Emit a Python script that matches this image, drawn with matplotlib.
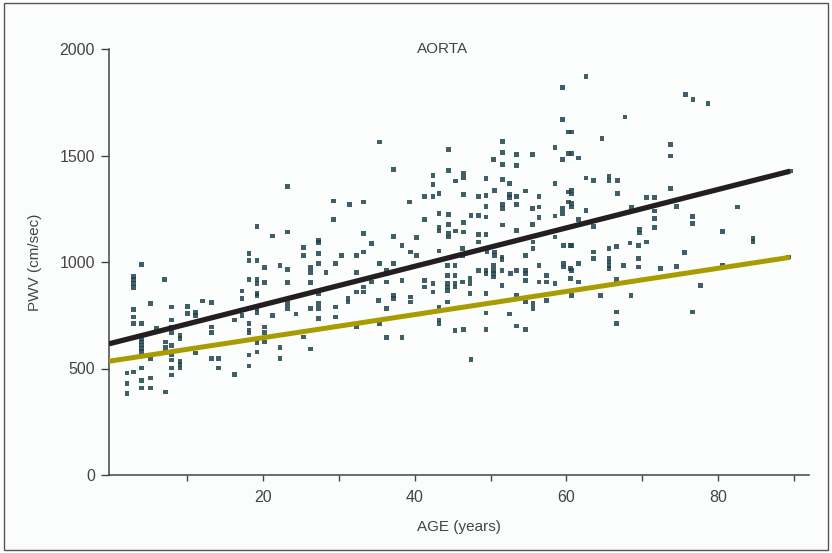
import matplotlib
matplotlib.use("Agg")
import matplotlib.pyplot as plt
from matplotlib.patches import Rectangle
import numpy as np

plt.rcParams['font.family'] = ['Liberation Sans', 'DejaVu Sans']

# Individual measurements: age (years) and aortic pulse wave velocity (cm/sec)
age = [
    3.9, 2.9, 2.9, 2.9, 2.9, 2.9, 2.9, 2.9, 3.9, 3.9, 3.9, 3.9, 3.9, 3.9,
    2.0, 2.0, 2.0, 2.9, 3.9, 3.9, 3.9, 5.1, 5.1, 5.1, 5.1, 5.9, 7.0,
    7.1, 7.1, 7.1, 7.1, 7.9, 7.9, 7.9, 7.9, 7.9, 7.9, 7.9, 7.9, 7.9,
    9.0, 9.0, 9.0, 9.0, 9.0, 10.0, 10.0, 11.1, 11.1, 11.1, 12.0,
    13.2, 13.2, 13.2, 13.2, 14.1, 14.1, 16.2, 16.2, 17.2, 17.2, 17.2,
    18.1, 18.1, 18.1, 18.1, 18.1, 18.1, 18.1, 18.1,
    19.2, 19.2, 19.2, 19.2, 19.2, 19.2, 19.2, 19.2, 19.2, 19.2,
    20.2, 20.2, 20.2, 20.2, 20.2, 21.2, 22.2, 22.2, 22.2,
    23.2, 23.2, 23.2, 23.2, 24.3, 25.3, 25.3, 25.3,
    26.2, 26.2, 26.2, 26.2, 26.2, 27.3, 27.3, 27.3, 27.3, 27.3, 27.3, 27.3,
    28.3, 29.5, 29.5, 29.5,
    23.2, 29.3, 29.3, 19.2, 23.2, 21.2, 27.3,
    59.5, 59.5, 60.3, 35.3, 44.4, 51.6, 51.6, 51.6, 51.6, 53.4, 53.4,
    50.4, 55.5, 58.5, 59.5, 60.3, 37.2, 44.4, 42.4, 42.4, 46.4, 46.4,
    45.4, 49.4, 52.5, 58.5, 54.6, 50.5, 31.4, 33.2, 39.3, 41.3, 42.4, 43.2,
    46.4, 48.4, 49.4, 52.5, 52.5, 53.4, 53.4, 56.4, 56.4, 60.3, 60.3,
    49.4, 51.6, 51.6, 55.5, 59.5, 59.5, 43.2, 44.4, 47.4, 48.4, 49.4,
    56.4, 58.5, 41.3, 51.6, 55.5, 44.4, 44.4, 44.4, 43.2, 43.2, 45.4,
    46.4, 46.4, 33.2, 37.2, 40.2, 48.4, 49.4, 53.4, 58.5,
    62.6, 75.7, 76.7, 78.7, 67.7, 60.7, 64.7, 73.7, 73.7, 60.7, 61.6,
    62.6, 63.6, 65.6, 65.6, 66.7, 66.7, 73.7, 60.7, 60.7, 60.7, 60.7,
    62.6, 61.6, 63.6, 70.6, 71.6, 68.6, 71.6, 71.6, 71.6, 74.5, 76.6, 76.6,
    82.6, 80.6, 84.6, 69.6, 69.6, 89.6,
    34.3, 30.3, 32.3, 33.2, 38.3, 39.4, 40.2, 43.2, 46.3, 46.3, 48.4, 49.5,
    50.5, 50.5, 51.5, 51.5, 54.6, 55.6, 55.6, 59.6, 60.5,
    35.3, 37.2, 32.3, 36.3, 36.3, 36.3, 34.3, 38.3, 41.3, 41.3, 42.4, 42.4,
    44.3, 44.3, 44.3, 44.3, 44.3, 45.3, 45.3, 45.3, 45.3, 46.3, 47.3, 47.3,
    47.3, 48.4, 49.4, 49.4, 50.4, 50.4, 50.4, 50.4, 51.5, 52.6, 51.5,
    53.4, 54.6, 54.6, 54.6, 56.4, 56.4, 57.4, 57.4, 58.5, 59.6, 59.6,
    60.5, 60.5, 31.2, 31.2, 32.3, 33.2, 33.2, 35.2, 36.3, 37.2, 37.2,
    39.4, 39.4, 43.2, 43.2, 43.2, 44.3, 49.4, 49.4, 52.5, 53.4, 53.4,
    54.6, 54.6, 55.6, 55.6, 57.4, 32.3, 35.3, 36.3, 38.3, 45.3, 46.4,
    49.4, 47.4,
    60.7, 63.6, 63.6, 65.6, 65.6, 65.6, 65.6, 65.6, 66.6, 68.4, 69.5, 70.6,
    69.5, 69.5, 67.5, 61.6, 60.7, 72.4, 74.5, 75.6, 80.6, 84.6, 61.6, 66.6,
    77.7, 60.7, 64.5, 68.5, 66.6, 66.6, 76.6, 89.3,
]
pwv = [
    989, 933, 919, 900, 881, 778, 741, 712, 712, 640, 625, 610, 595, 580,
    478, 431, 384, 483, 502, 445, 408, 806, 455, 408, 548, 689, 919,
    624, 600, 577, 389, 788, 727, 694, 670, 609, 563, 539, 502, 469,
    656, 642, 534, 520, 502, 792, 759, 764, 750, 572, 816,
    811, 694, 670, 548, 548, 502, 727, 473, 863, 830, 750,
    1041, 1008, 919, 712, 680, 666, 563, 511,
    1008, 919, 900, 853, 844, 783, 764, 633, 619, 577,
    975, 905, 694, 670, 624, 750, 984, 600, 548,
    966, 905, 806, 783, 755, 1069, 1031, 647,
    975, 952, 905, 783, 591, 1092, 1041, 994, 853, 806, 783, 736,
    952, 994, 788, 741,
    1355, 1286, 1200, 1167, 1141, 1122, 1102,
    1818, 1669, 1610, 1563, 1528, 1566, 1514, 1458, 1388, 1505, 1453,
    1481, 1505, 1538, 1481, 1509, 1433, 1430, 1406, 1364, 1417, 1398,
    1380, 1391, 1368, 1368, 1333, 1336, 1270, 1281, 1281, 1308, 1308, 1323,
    1317, 1308, 1313, 1317, 1302, 1308, 1270, 1308, 1258, 1328, 1281,
    1261, 1270, 1250, 1250, 1250, 1227, 1227, 1223, 1219, 1219, 1211,
    1208, 1216, 1200, 1174, 1177, 1177, 1133, 1117, 1161, 1145, 1145,
    1185, 1141, 1133, 1120, 1114, 1130, 1130, 1149, 1117,
    1871, 1786, 1763, 1745, 1680, 1610, 1581, 1552, 1497, 1508, 1489,
    1395, 1383, 1402, 1383, 1383, 1323, 1344, 1336, 1320, 1274, 1258,
    1242, 1199, 1167, 1302, 1302, 1255, 1239, 1203, 1161, 1261, 1214, 1180,
    1258, 1144, 1110, 1152, 1136, 1427,
    1086, 1031, 1031, 1047, 1078, 1047, 1031, 1052, 1063, 1031, 1094, 1047,
    1047, 1031, 1023, 1013, 1031, 1063, 1094, 1078, 1078,
    992, 992, 950, 961, 946, 906, 906, 914, 914, 883, 899, 859,
    984, 938, 899, 883, 867, 984, 938, 899, 883, 906, 922, 899,
    852, 961, 961, 946, 984, 961, 946, 930, 961, 946, 891,
    961, 961, 946, 914, 984, 906, 938, 906, 899, 992, 977,
    969, 922, 828, 812, 859, 883, 859, 820, 781, 844, 828,
    836, 812, 789, 727, 711, 812, 852, 761, 755, 844, 699,
    812, 683, 805, 781, 820, 695, 708, 646, 646, 677, 683,
    683, 542,
    1078, 1047, 1016, 1063, 1016, 1000, 984, 969, 1073, 1089, 1078, 1094,
    1016, 977, 984, 992, 961, 969, 980, 1045, 984, 1097, 906, 917,
    891, 844, 844, 844, 766, 711, 766, 1023,
]

# Fitted regression lines: PWV = intercept + slope * age
fit_age_range = [-0.35, 89.5]
total_intercept, total_slope = 619, 9.02
lower_intercept, lower_slope = 536, 5.43

fig = plt.figure(figsize=(8.32, 5.53), dpi=100, facecolor='white')
frame = Rectangle((4 / 832, 3 / 553), 824 / 832, 547 / 553,
                  transform=fig.transFigure, fill=True,
                  facecolor='#fbfcfc', edgecolor='#555555',
                  linewidth=1.0, zorder=-10)
fig.add_artist(frame)

ax = fig.add_axes([109 / 832, 1 - 475 / 553, 700 / 832, 426 / 553])
ax.set_zorder(1)
ax.set_facecolor('#fcfdfd')

ax.scatter(age, pwv, s=11, marker='s', color='#1f434c', edgecolors='none',
           alpha=0.85, zorder=2)

xs = np.array(fit_age_range)
ax.plot(xs, total_intercept + total_slope * xs, color='#231f20', lw=3.8,
        solid_capstyle='butt', zorder=3)
ax.plot(xs, lower_intercept + lower_slope * xs, color='#a99c00', lw=3.6,
        solid_capstyle='butt', zorder=3)

ax.set_xlim(-0.35, 92)
ax.set_ylim(0, 2000)

ax.set_xticks(np.arange(10, 91, 10))
ax.set_xticklabels(['' if v % 20 else str(v) for v in range(10, 91, 10)])
ax.set_yticks([0, 500, 1000, 1500, 2000])

for side in ['top', 'right']:
    ax.spines[side].set_visible(False)
for side in ['left', 'bottom']:
    ax.spines[side].set_color('#444444')
    ax.spines[side].set_linewidth(1.1)

ax.tick_params(axis='x', direction='out', length=4.5, width=1.0,
               color='#444444', labelcolor='#444444', labelsize=11.5, pad=6)
ax.tick_params(axis='y', direction='out', length=6, width=1.0,
               color='#444444', labelcolor='#444444', labelsize=11.5, pad=4)

ax.set_xlabel('AGE (years)', fontsize=11, color='#444444', labelpad=11)
ax.set_ylabel('PWV (cm/sec)', fontsize=11, color='#444444', labelpad=13)

ax.text(0.477, 1.0, 'AORTA', transform=ax.transAxes, ha='center',
        va='center', fontsize=11, color='#444444')

fig.savefig('out.png', dpi=100, facecolor=fig.get_facecolor())
